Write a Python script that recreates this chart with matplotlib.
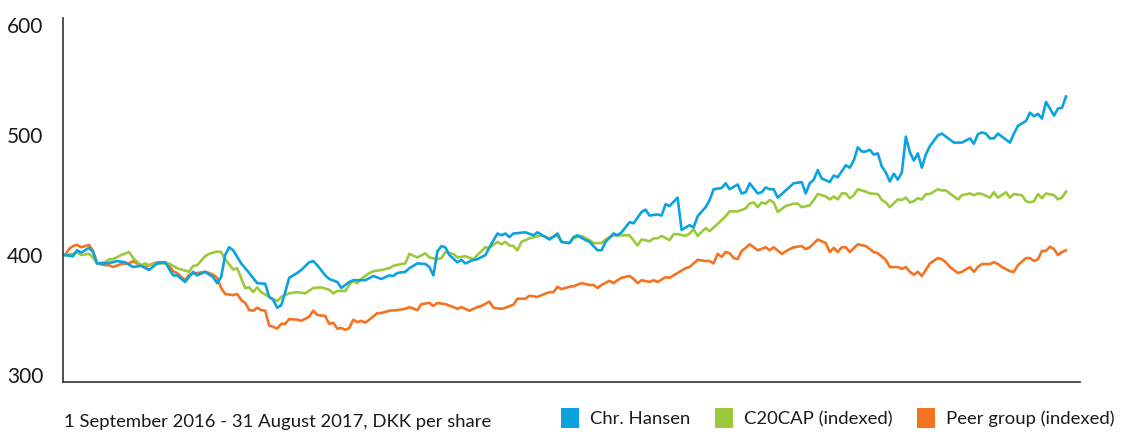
import matplotlib
matplotlib.use("Agg")
import matplotlib.pyplot as plt
from matplotlib.patches import Patch

# trading day index (0 = 1 Sep 2016, 250 = 31 Aug 2017) and DKK per share
hansen_day = [0, 2, 3, 4, 6, 7, 8, 10, 12, 13, 15, 17, 19, 21, 23, 25, 27, 28, 30, 32,
              33, 35, 37, 38, 39, 40, 41, 42, 44, 46, 48, 50, 51, 52, 53, 54, 55, 56, 58, 59,
              61, 62, 63, 65, 66, 68, 69, 71, 72, 75, 77, 79, 81, 82, 83, 85, 86, 88, 90, 91,
              92, 93, 94, 95, 96, 98, 99, 100, 102, 103, 105, 106, 108, 109, 110, 111, 112, 115, 117, 118,
              121, 123, 124, 126, 127, 128, 130, 131, 133, 134, 135, 137, 138, 139, 141, 142, 144, 145, 146, 148,
              149, 150, 151, 153, 154, 156, 157, 158, 160, 161, 162, 164, 165, 166, 168, 169, 170, 171, 173, 174,
              175, 176, 177, 178, 180, 182, 184, 185, 186, 187, 188, 189, 191, 192, 193, 195, 196, 197, 198, 199,
              200, 201, 202, 203, 204, 205, 206, 207, 208, 209, 210, 211, 212, 213, 214, 215, 216, 218, 219, 221,
              222, 224, 226, 227, 228, 229, 230, 231, 232, 233, 234, 236, 237, 238, 240, 241, 242, 243, 244, 245,
              246, 247, 248, 249, 250]
hansen = [400, 399, 404, 402, 406, 402.5, 393, 393, 394, 395, 394, 390, 391, 387.5, 393, 394, 383, 383, 377.5, 386,
          383, 386, 381.5, 376.5, 381.5, 400, 406.5, 404, 393, 385, 376.5, 376, 365, 362.5, 356, 358, 369, 381, 385, 387.5,
          394, 395, 391.5, 383, 380, 377.5, 372.5, 377.5, 379, 379, 382.5, 380, 383, 382.5, 385, 386, 389, 393, 392.5, 390,
          383, 403, 407.5, 406.5, 400, 394, 396, 393, 396, 396.5, 400, 406.5, 418, 416.5, 418, 415, 418, 419, 416.5, 419,
          413, 418, 411, 410, 415, 416.5, 412.5, 411, 404, 404, 411, 418, 416.5, 419, 427.5, 426.5, 436, 438, 433, 434,
          433, 442.5, 441, 448, 421, 425, 423, 432.5, 440, 446, 455, 456, 460, 455, 459, 451.5, 452.5, 460, 451.5, 452.5,
          456.5, 455, 455, 448, 454, 460, 461, 451.5, 460, 463, 471, 464, 461, 466.5, 465, 475, 473, 479, 490, 486.5,
          486.5, 488, 484, 485, 474, 469, 461.5, 468, 463, 469, 499, 486, 479, 485, 473, 484, 491, 500, 501.5, 496.5,
          494, 494, 497.5, 493, 501, 502.5, 501.5, 497.5, 497.5, 501.5, 499, 494, 501.5, 508, 512, 519, 516, 518, 514, 528,
          522.5, 516.5, 522.5, 523, 532.5]

c20_day = [0, 2, 3, 4, 6, 7, 8, 10, 11, 12, 14, 16, 17, 19, 20, 21, 23, 26, 28, 29,
           31, 32, 33, 35, 36, 38, 39, 40, 42, 43, 45, 46, 47, 48, 49, 51, 53, 54, 56, 58,
           60, 62, 64, 66, 67, 68, 70, 71, 72, 73, 74, 76, 77, 79, 81, 82, 84, 85, 86, 88,
           90, 91, 93, 94, 95, 97, 98, 100, 102, 103, 105, 106, 108, 109, 110, 111, 112, 113, 114, 116,
           119, 121, 123, 124, 126, 127, 129, 131, 132, 134, 135, 137, 140, 141, 143, 144, 146, 147, 148, 149,
           151, 152, 153, 155, 156, 157, 158, 160, 161, 163, 165, 166, 168, 170, 171, 172, 173, 174, 175, 176,
           177, 178, 180, 182, 183, 184, 186, 187, 188, 190, 191, 192, 193, 194, 195, 196, 197, 198, 200, 201,
           203, 204, 205, 206, 208, 209, 210, 211, 212, 213, 214, 215, 216, 218, 219, 220, 221, 223, 224, 226,
           227, 228, 229, 231, 232, 233, 235, 236, 237, 239, 240, 241, 242, 243, 244, 245, 247, 248, 249, 250]
c20 = [400, 401, 402.5, 400, 401, 398, 393, 394, 396.5, 396.5, 400, 402.5, 397.5, 391.5, 393, 391.5, 393, 393, 389, 388,
       386, 391, 391.5, 399, 401, 403, 402.5, 396.5, 388, 389, 372.5, 373, 369, 373, 369, 365, 361.5, 365, 368, 369,
       368, 372.5, 373, 371, 368, 370, 370, 375, 378.5, 376.5, 380, 385, 386.5, 387.5, 389, 391, 392.5, 393, 401, 398,
       401.5, 398, 396.5, 397.5, 402.5, 401, 398, 399, 396.5, 400, 406.5, 406, 411, 409, 411, 408, 407.5, 404, 411, 414,
       416.5, 414, 416.5, 411, 410, 414, 416, 412.5, 410, 410, 413, 416.5, 416.5, 416.5, 408, 413, 411.5, 414, 414, 416,
       412.5, 417.5, 417.5, 416, 418, 421.5, 416, 422.5, 420, 426, 432.5, 436.5, 436.5, 439, 443, 444, 440, 444, 443, 446,
       444, 436, 441, 443, 443, 440, 441.5, 446, 451, 449, 446.5, 449, 446.5, 451.5, 451.5, 447.5, 450, 455, 453, 451.5,
       451, 446, 444, 440, 446.5, 446, 448, 444, 445, 447.5, 446.5, 451, 451, 455, 454, 454, 451.5, 446.5, 450, 451.5,
       450, 451.5, 451, 448, 452.5, 448, 452.5, 448, 451, 450, 445, 444, 445, 451, 447.5, 451.5, 450, 446.5, 448, 453]

peer_day = [0, 1, 2, 3, 4, 6, 7, 8, 10, 11, 12, 14, 16, 17, 18, 20, 21, 23, 25, 26,
            27, 28, 30, 31, 33, 35, 36, 37, 38, 39, 40, 42, 43, 44, 45, 46, 47, 48, 49, 50,
            51, 52, 53, 54, 55, 56, 58, 59, 61, 62, 63, 65, 66, 67, 68, 69, 70, 71, 72, 73,
            74, 75, 76, 78, 79, 81, 83, 85, 86, 88, 89, 91, 92, 93, 95, 97, 98, 99, 101, 103,
            104, 106, 107, 109, 110, 112, 113, 115, 116, 118, 119, 121, 122, 123, 124, 126, 127, 129, 131, 132,
            133, 134, 136, 137, 138, 139, 141, 142, 143, 144, 146, 147, 148, 150, 151, 153, 155, 156, 158, 160,
            161, 162, 163, 164, 165, 166, 167, 168, 169, 170, 171, 172, 173, 175, 176, 177, 179, 181, 182, 184,
            185, 186, 188, 190, 191, 192, 193, 194, 195, 196, 198, 200, 202, 203, 205, 206, 208, 209, 210, 211,
            212, 213, 214, 215, 216, 218, 219, 220, 221, 223, 224, 226, 227, 228, 229, 231, 232, 233, 234, 236,
            237, 238, 240, 241, 242, 243, 244, 245, 246, 247, 248, 249, 250]
peer = [400, 405, 407.5, 408.5, 406.5, 408.5, 403.5, 393, 391.5, 391.5, 390, 392.5, 393, 395, 393, 390, 391.5, 394, 394, 391,
        386.5, 385, 379, 383.5, 385, 386, 385, 383.5, 381, 372.5, 367.5, 366.5, 367.5, 362.5, 360, 354, 353.5, 356, 354, 353.5,
        341, 340, 338.5, 342.5, 342.5, 346.5, 346, 345, 348.5, 353.5, 350, 349, 342.5, 343.5, 338.5, 339, 337.5, 339, 346, 344,
        345, 343.5, 346, 351.5, 351.5, 353.5, 354, 355, 356.5, 354, 359, 360, 357.5, 360, 359, 356.5, 355, 356.5, 353.5, 356.5,
        357.5, 361, 356, 355, 356, 358.5, 363.5, 363.5, 366, 365, 366.5, 369, 369, 373.5, 371.5, 373.5, 374, 376.5, 375, 375,
        372.5, 375, 378.5, 376.5, 379, 381, 382.5, 380, 376.5, 379, 377.5, 379, 377.5, 381.5, 381, 385, 389, 390, 396, 395,
        395, 393, 401, 398.5, 402.5, 401.5, 397.5, 396.5, 403.5, 406, 409, 406.5, 404, 406.5, 404, 406.5, 401, 405, 406.5, 407.5,
        405, 406.5, 413, 410, 402.5, 406, 402.5, 406.5, 406.5, 402.5, 409, 407.5, 402.5, 401.5, 396, 390, 390, 388.5, 390, 386,
        383.5, 386, 382.5, 387.5, 393, 397.5, 396.5, 394, 390, 385, 386, 390, 386, 390, 392.5, 392.5, 394, 392.5, 390, 386.5,
        386, 391.5, 397.5, 397.5, 395, 396.5, 403.5, 403.5, 407, 405, 400, 402.5, 404]

names = ["Chr. Hansen", "C20CAP (indexed)", "Peer group (indexed)"]
colors = ["#0aa3e0", "#9bc93b", "#f47321"]
yticks = [300, 400, 500, 600]

plt.rcParams['font.family'] = ['Lato', 'DejaVu Sans']

fig = plt.figure(figsize=(11.25, 4.32), dpi=100)
ax = fig.add_axes([0.056, 0.116, 0.904, 0.842])

ax.plot(peer_day, peer, color=colors[2], linewidth=1.9)
ax.plot(c20_day, c20, color=colors[1], linewidth=1.9)
ax.plot(hansen_day, hansen, color=colors[0], linewidth=1.9)

ax.set_xlim(-0.5, 253.5)
ax.set_ylim(294, 598)
# top label sits a little below the axis end in the original
ax.set_yticks([300, 400, 500, 592], labels=[str(t) for t in yticks])
ax.set_xticks([])
ax.tick_params(axis='y', length=0, pad=14, labelsize=15, labelcolor='#1a1a1a')
for s in ['top', 'right']:
    ax.spines[s].set_visible(False)
for s in ['left', 'bottom']:
    ax.spines[s].set_color('#333333')
    ax.spines[s].set_linewidth(1.2)

fig.text(0.057, 0.012, "1 September 2016 - 31 August 2017, DKK per share",
         fontsize=13.3, color='#1a1a1a')

handles = [Patch(facecolor=c, edgecolor='none') for c in colors]
fig.legend(handles, names, loc='lower right', bbox_to_anchor=(1.006, -0.03),
           ncol=3, frameon=False, fontsize=13.3, handlelength=1.0, handleheight=1.3,
           handletextpad=0.6, columnspacing=1.3, labelcolor='#1a1a1a')

fig.savefig("out.png", dpi=100)
